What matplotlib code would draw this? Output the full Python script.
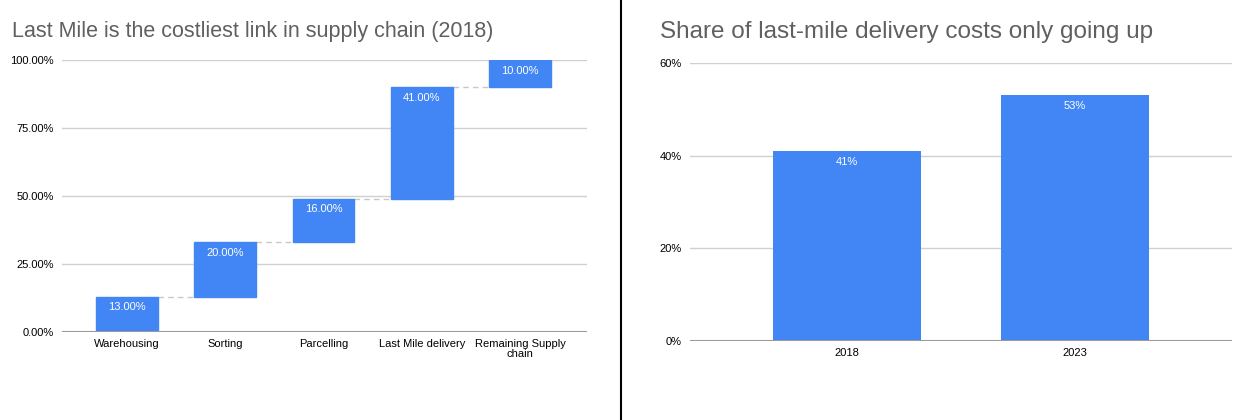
import matplotlib
matplotlib.use("Agg")
import matplotlib.pyplot as plt
from matplotlib.lines import Line2D
from matplotlib.ticker import FuncFormatter

plt.rcParams['font.family'] = ['Liberation Sans', 'DejaVu Sans']

# Data
stages = ["Warehousing", "Sorting", "Parcelling", "Last Mile delivery", "Remaining Supply\nchain"]
stage_share = [13, 20, 16, 41, 10]
left_title = "Last Mile is the costliest link in supply chain (2018)"
left_ticks = [0, 25, 50, 75, 100]

years = ["2018", "2023"]
year_share = [41, 53]
right_title = "Share of last-mile delivery costs only going up"
right_ticks = [0, 20, 40, 60]

BLUE = "#4285F4"
GRID = "#d0d0d0"
BASE = "#9a9a9a"
TITLE_C = "#606060"

fig = plt.figure(figsize=(12.5, 4.2), dpi=100)

# Left waterfall
ax1 = fig.add_axes([0.0496, 0.2095, 0.42, 0.6475])
bottoms = []
cum = 0
for v in stage_share:
    bottoms.append(cum)
    cum += v
xs = list(range(len(stages)))
bw = 0.63
ax1.bar(xs, stage_share, bottom=bottoms, width=bw, color=BLUE, edgecolor=BLUE, zorder=3)
for i, (b, v) in enumerate(zip(bottoms, stage_share)):
    top = b + v
    ax1.annotate(f"{v:.2f}%", (i, top), xytext=(0, -4), textcoords="offset points",
                 ha="center", va="top", color="white", fontsize=8, zorder=4)
    if i < len(stages) - 1:
        ax1.plot([i + bw / 2, i + 1 - bw / 2], [top, top], ls=(0, (4, 3)), color="#c8c8c8",
                 lw=1, zorder=2)
ax1.set_xlim(-0.66, 4.68)
ax1.set_ylim(0, 100)
ax1.set_yticks(left_ticks)
ax1.yaxis.set_major_formatter(FuncFormatter(lambda v, p: f"{v:.2f}%"))
ax1.set_xticks(xs)
ax1.set_xticklabels(stages, fontsize=8, linespacing=1.0)
ax1.tick_params(axis='y', labelsize=8, length=0, pad=6)
ax1.tick_params(axis='x', length=0, pad=5)
ax1.grid(axis='y', color=GRID, lw=1, zorder=0)
for s in ax1.spines.values():
    s.set_visible(False)
ax1.axhline(0, color=BASE, lw=1.5, zorder=5)
fig.text(12 / 1250, 1 - 32 / 420, left_title, fontsize=15.5, color=TITLE_C, va="center", ha="left")

# Right bar chart
ax2 = fig.add_axes([0.552, 0.188, 0.4336, 0.662])
xs2 = list(range(len(years)))
ax2.bar(xs2, year_share, width=0.65, color=BLUE, zorder=3)
for i, v in enumerate(year_share):
    ax2.annotate(f"{v}%", (i, v), xytext=(0, -4), textcoords="offset points",
                 ha="center", va="top", color="white", fontsize=8, zorder=4)
ax2.set_xlim(-0.69, 1.69)
ax2.set_ylim(0, 60)
ax2.set_yticks(right_ticks)
ax2.yaxis.set_major_formatter(FuncFormatter(lambda v, p: f"{v:.0f}%"))
ax2.set_xticks(xs2)
ax2.set_xticklabels(years, fontsize=8)
ax2.tick_params(axis='y', labelsize=8, length=0, pad=6)
ax2.tick_params(axis='x', length=0, pad=5)
ax2.grid(axis='y', color=GRID, lw=1, zorder=0)
for s in ax2.spines.values():
    s.set_visible(False)
ax2.axhline(0, color=BASE, lw=1.5, zorder=5)
fig.text(660 / 1250, 1 - 32 / 420, right_title, fontsize=17.5, color=TITLE_C, va="center", ha="left")

# Separator
fig.add_artist(Line2D([621 / 1250, 621 / 1250], [0, 1], color="black", lw=1.5,
                      transform=fig.transFigure))

fig.savefig("out.png", dpi=100)
